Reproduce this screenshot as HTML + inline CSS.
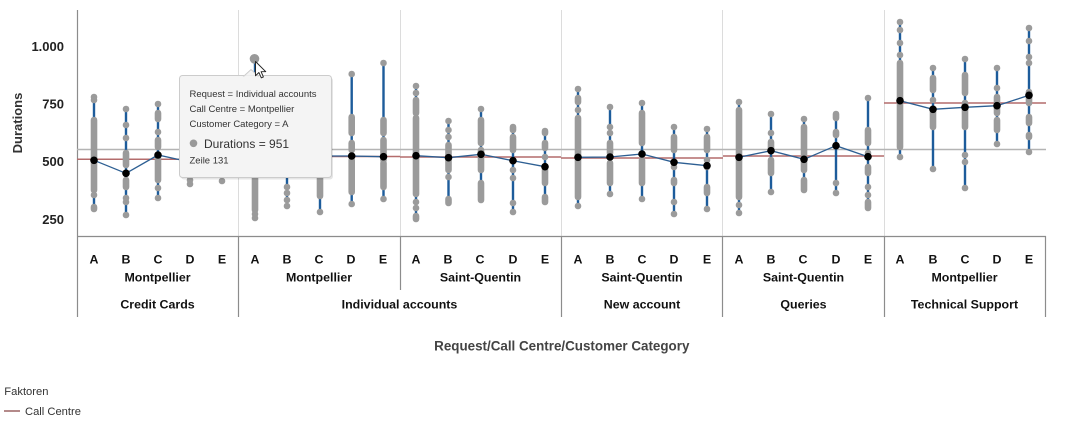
<!DOCTYPE html>
<html><head><meta charset="utf-8"><style>
html,body{margin:0;padding:0;background:#fff;width:1068px;height:424px;overflow:hidden}
svg{display:block}
text{font-family:"Liberation Sans",sans-serif}
.bl{stroke:#1d5c9b;stroke-width:2.4}
.g{stroke:#9b9b9b;stroke-width:6.6;stroke-linecap:round}
.d{fill:#9b9b9b}
.m{fill:#000}
.ml{stroke:#2d5f93;stroke-width:1.3;fill:none}
.rd{stroke:#b46c6c;stroke-width:1.5}
.lt{font-size:12.4px;font-weight:bold;fill:#111;text-anchor:middle}
.tk{font-size:13px;font-weight:bold;fill:#222;text-anchor:end}
.tt{font-size:9.5px;fill:#333}
</style></head><body>
<svg width="1068" height="424" viewBox="0 0 1068 424" xmlns="http://www.w3.org/2000/svg">
<!-- separators in plot -->
<g stroke="#dcdcdc" stroke-width="1">
<line x1="238.5" y1="10" x2="238.5" y2="236"/>
<line x1="400.5" y1="10" x2="400.5" y2="236"/>
<line x1="561.5" y1="10" x2="561.5" y2="236"/>
<line x1="722.5" y1="10" x2="722.5" y2="236"/>
<line x1="884.5" y1="10" x2="884.5" y2="236"/>
</g>
<!-- axes -->
<g stroke="#8c8c8c" stroke-width="1.2">
<line x1="77.5" y1="10" x2="77.5" y2="317"/>
<line x1="77" y1="236.5" x2="1046" y2="236.5"/>
<line x1="238.5" y1="236" x2="238.5" y2="317"/>
<line x1="400.5" y1="236" x2="400.5" y2="290"/>
<line x1="561.5" y1="236" x2="561.5" y2="317"/>
<line x1="722.5" y1="236" x2="722.5" y2="317"/>
<line x1="884.5" y1="236" x2="884.5" y2="317"/>
<line x1="1045.5" y1="236" x2="1045.5" y2="317"/>
</g>
<!-- y ticks -->
<text class="tk" x="64" y="51">1.000</text>
<text class="tk" x="64" y="108.5">750</text>
<text class="tk" x="64" y="166">500</text>
<text class="tk" x="64" y="224">250</text>
<text transform="translate(22,123) rotate(-90)" text-anchor="middle" font-size="13" font-weight="bold" fill="#333">Durations</text>

<!-- reference lines -->
<line x1="77" y1="149.5" x2="1046" y2="149.5" stroke="#b4b4b4" stroke-width="1.5"/>
<line class="rd" x1="77" y1="159.3" x2="238" y2="159.3"/>
<line class="rd" x1="238" y1="156.5" x2="400" y2="156.5"/>
<line class="rd" x1="400" y1="157" x2="561" y2="157"/>
<line class="rd" x1="561" y1="158" x2="723" y2="158"/>
<line class="rd" x1="723" y1="156" x2="884" y2="156"/>
<line class="rd" x1="884" y1="103" x2="1046" y2="103"/>

<!-- blue range lines -->
<g class="bl">
<line x1="94" y1="97" x2="94" y2="208"/>
<line x1="126" y1="109" x2="126" y2="215"/>
<line x1="158" y1="104" x2="158" y2="198"/>
<line x1="190" y1="120" x2="190" y2="184"/>
<line x1="222" y1="130" x2="222" y2="182"/>
<line x1="255" y1="59" x2="255" y2="218"/>
<line x1="287" y1="110" x2="287" y2="206"/>
<line x1="320" y1="100" x2="320" y2="212"/>
<line x1="351.7" y1="74" x2="351.7" y2="205"/>
<line x1="383.5" y1="63" x2="383.5" y2="200"/>
<line x1="416" y1="86" x2="416" y2="219"/>
<line x1="448.5" y1="121" x2="448.5" y2="203"/>
<line x1="481" y1="109" x2="481" y2="200"/>
<line x1="513" y1="127" x2="513" y2="212"/>
<line x1="545" y1="131" x2="545" y2="202"/>
<line x1="578" y1="89" x2="578" y2="206"/>
<line x1="610" y1="107" x2="610" y2="194"/>
<line x1="642" y1="103" x2="642" y2="199"/>
<line x1="674" y1="127" x2="674" y2="214"/>
<line x1="707" y1="129" x2="707" y2="209"/>
<line x1="739" y1="102" x2="739" y2="213"/>
<line x1="771" y1="114" x2="771" y2="192"/>
<line x1="804" y1="119" x2="804" y2="190"/>
<line x1="836" y1="114" x2="836" y2="193"/>
<line x1="868" y1="98" x2="868" y2="208"/>
<line x1="900" y1="22" x2="900" y2="157"/>
<line x1="933" y1="68" x2="933" y2="169"/>
<line x1="965" y1="59" x2="965" y2="188"/>
<line x1="997" y1="68" x2="997" y2="144"/>
<line x1="1029" y1="28" x2="1029" y2="152"/>
</g>

<!-- grey dense segments -->
<g class="g">
<line x1="94" y1="120" x2="94" y2="190"/><line x1="94" y1="207" x2="94" y2="209"/>
<line x1="126" y1="153" x2="126" y2="165"/><line x1="126" y1="180" x2="126" y2="187"/>
<line x1="158" y1="113" x2="158" y2="119"/><line x1="158" y1="140" x2="158" y2="147"/><line x1="158" y1="158" x2="158" y2="180"/>
<line x1="190" y1="130" x2="190" y2="170"/>
<line x1="222" y1="140" x2="222" y2="170"/>
<line x1="255" y1="170" x2="255" y2="210"/>
<line x1="287" y1="150" x2="287" y2="170"/>
<line x1="320" y1="170" x2="320" y2="196"/>
<line x1="351.7" y1="117" x2="351.7" y2="133"/><line x1="351.7" y1="143" x2="351.7" y2="150"/><line x1="351.7" y1="160" x2="351.7" y2="192"/>
<line x1="383.5" y1="120" x2="383.5" y2="133"/><line x1="383.5" y1="140" x2="383.5" y2="160"/><line x1="383.5" y1="163" x2="383.5" y2="187"/>
<line x1="416" y1="100" x2="416" y2="113"/><line x1="416" y1="118" x2="416" y2="194"/><line x1="416" y1="216" x2="416" y2="219"/>
<line x1="448.5" y1="145" x2="448.5" y2="170"/><line x1="448.5" y1="199" x2="448.5" y2="203"/>
<line x1="481" y1="120" x2="481" y2="143"/><line x1="481" y1="150" x2="481" y2="170"/><line x1="481" y1="183" x2="481" y2="200"/>
<line x1="513" y1="127" x2="513" y2="130"/><line x1="513" y1="137" x2="513" y2="150"/>
<line x1="545" y1="131" x2="545" y2="133"/><line x1="545" y1="143" x2="545" y2="148"/><line x1="545" y1="170" x2="545" y2="183"/><line x1="545" y1="197" x2="545" y2="202"/>
<line x1="578" y1="98" x2="578" y2="102"/><line x1="578" y1="118" x2="578" y2="197"/>
<line x1="610" y1="143" x2="610" y2="153"/><line x1="610" y1="163" x2="610" y2="183"/>
<line x1="642" y1="113" x2="642" y2="143"/><line x1="642" y1="160" x2="642" y2="183"/>
<line x1="674" y1="137" x2="674" y2="150"/><line x1="674" y1="180" x2="674" y2="183"/>
<line x1="707" y1="137" x2="707" y2="150"/><line x1="707" y1="187" x2="707" y2="193"/>
<line x1="739" y1="110" x2="739" y2="197"/>
<line x1="771" y1="142" x2="771" y2="150"/><line x1="771" y1="160" x2="771" y2="173"/>
<line x1="804" y1="127" x2="804" y2="170"/><line x1="804" y1="180" x2="804" y2="190"/>
<line x1="836" y1="114" x2="836" y2="118"/><line x1="836" y1="132" x2="836" y2="135"/>
<line x1="868" y1="130" x2="868" y2="143"/><line x1="868" y1="167" x2="868" y2="173"/><line x1="868" y1="202" x2="868" y2="208"/>
<line x1="900" y1="63" x2="900" y2="147"/>
<line x1="933" y1="78" x2="933" y2="90"/><line x1="933" y1="110" x2="933" y2="127"/>
<line x1="965" y1="75" x2="965" y2="93"/><line x1="965" y1="103" x2="965" y2="127"/>
<line x1="997" y1="97" x2="997" y2="113"/><line x1="997" y1="120" x2="997" y2="130"/>
<line x1="1029" y1="92" x2="1029" y2="103"/><line x1="1029" y1="117" x2="1029" y2="123"/><line x1="1029" y1="135" x2="1029" y2="137"/>
</g>

<!-- grey single dots -->
<g class="d">
<circle cx="94" cy="97" r="3.3"/><circle cx="94" cy="100" r="3.3"/><circle cx="94" cy="195" r="3.3"/>
<circle cx="126" cy="109" r="3.3"/><circle cx="126" cy="125" r="3.3"/><circle cx="126" cy="138" r="3.3"/><circle cx="126" cy="198" r="3.3"/><circle cx="126" cy="202" r="3.3"/><circle cx="126" cy="215" r="3.3"/>
<circle cx="158" cy="104" r="3.3"/><circle cx="158" cy="132" r="3.3"/><circle cx="158" cy="188" r="3.3"/><circle cx="158" cy="198" r="3.3"/>
<circle cx="190" cy="180" r="3.3"/><circle cx="190" cy="184" r="3.3"/>
<circle cx="222" cy="181" r="3.3"/>
<circle cx="255" cy="214" r="3.3"/><circle cx="255" cy="218" r="3.3"/>
<circle cx="287" cy="187" r="3.3"/><circle cx="287" cy="193" r="3.3"/><circle cx="287" cy="200" r="3.3"/><circle cx="287" cy="206" r="3.3"/>
<circle cx="320" cy="212" r="3.3"/>
<circle cx="351.7" cy="74" r="3.3"/><circle cx="351.7" cy="204" r="3.3"/>
<circle cx="383.5" cy="63" r="3.3"/><circle cx="383.5" cy="199" r="3.3"/>
<circle cx="416" cy="86" r="3.3"/><circle cx="416" cy="93" r="3.3"/><circle cx="416" cy="202" r="3.3"/><circle cx="416" cy="208" r="3.3"/>
<circle cx="448.5" cy="121" r="3.3"/><circle cx="448.5" cy="130" r="3.3"/><circle cx="448.5" cy="137" r="3.3"/><circle cx="448.5" cy="177" r="3.3"/>
<circle cx="481" cy="109" r="3.3"/>
<circle cx="513" cy="170" r="3.3"/><circle cx="513" cy="178" r="3.3"/><circle cx="513" cy="203" r="3.3"/><circle cx="513" cy="212" r="3.3"/>
<circle cx="545" cy="157" r="3.3"/>
<circle cx="578" cy="89" r="3.3"/><circle cx="578" cy="110" r="3.3"/><circle cx="578" cy="206" r="3.3"/>
<circle cx="610" cy="107" r="3.3"/><circle cx="610" cy="127" r="3.3"/><circle cx="610" cy="133" r="3.3"/><circle cx="610" cy="194" r="3.3"/>
<circle cx="642" cy="103" r="3.3"/><circle cx="642" cy="199" r="3.3"/>
<circle cx="674" cy="127" r="3.3"/><circle cx="674" cy="167" r="3.3"/><circle cx="674" cy="202" r="3.3"/><circle cx="674" cy="214" r="3.3"/>
<circle cx="707" cy="129" r="3.3"/><circle cx="707" cy="160" r="3.3"/><circle cx="707" cy="167" r="3.3"/><circle cx="707" cy="209" r="3.3"/>
<circle cx="739" cy="102" r="3.3"/><circle cx="739" cy="205" r="3.3"/><circle cx="739" cy="213" r="3.3"/>
<circle cx="771" cy="114" r="3.3"/><circle cx="771" cy="133" r="3.3"/><circle cx="771" cy="192" r="3.3"/>
<circle cx="804" cy="119" r="3.3"/>
<circle cx="836" cy="183" r="3.3"/><circle cx="836" cy="193" r="3.3"/>
<circle cx="868" cy="98" r="3.3"/><circle cx="868" cy="153" r="3.3"/><circle cx="868" cy="187" r="3.3"/><circle cx="868" cy="195" r="3.3"/>
<circle cx="900" cy="22" r="3.3"/><circle cx="900" cy="30" r="3.3"/><circle cx="900" cy="43" r="3.3"/><circle cx="900" cy="55" r="3.3"/><circle cx="900" cy="157" r="3.3"/>
<circle cx="933" cy="68" r="3.3"/><circle cx="933" cy="100" r="3.3"/><circle cx="933" cy="169" r="3.3"/>
<circle cx="965" cy="59" r="3.3"/><circle cx="965" cy="155" r="3.3"/><circle cx="965" cy="162" r="3.3"/><circle cx="965" cy="188" r="3.3"/>
<circle cx="997" cy="68" r="3.3"/><circle cx="997" cy="88" r="3.3"/><circle cx="997" cy="144" r="3.3"/>
<circle cx="1029" cy="28" r="3.3"/><circle cx="1029" cy="41" r="3.3"/><circle cx="1029" cy="57" r="3.3"/><circle cx="1029" cy="63" r="3.3"/><circle cx="1029" cy="152" r="3.3"/>
</g>

<!-- mean lines -->
<polyline class="ml" points="94,160.3 126,173.3 158,155 190,162 222,158"/>
<polyline class="ml" points="255,157 287,158 320,156 351.7,156 383.5,156.7"/>
<polyline class="ml" points="416,155.7 448.5,157.7 481,154.3 513,160.7 545,166.7"/>
<polyline class="ml" points="578,157.3 610,157 642,154 674,162.3 707,165.7"/>
<polyline class="ml" points="739,157.3 771,150.7 804,159.3 836,145.7 868,156.7"/>
<polyline class="ml" points="900,100.7 933,109.3 965,107.3 997,105.7 1029,95.3"/>
<g class="m">
<circle cx="94" cy="160.3" r="3.8"/><circle cx="126" cy="173.3" r="3.8"/><circle cx="158" cy="155" r="3.8"/><circle cx="190" cy="162" r="3.8"/><circle cx="222" cy="158" r="3.8"/>
<circle cx="255" cy="157" r="3.8"/><circle cx="287" cy="158" r="3.8"/><circle cx="320" cy="156" r="3.8"/><circle cx="351.7" cy="156" r="3.8"/><circle cx="383.5" cy="156.7" r="3.8"/>
<circle cx="416" cy="155.7" r="3.8"/><circle cx="448.5" cy="157.7" r="3.8"/><circle cx="481" cy="154.3" r="3.8"/><circle cx="513" cy="160.7" r="3.8"/><circle cx="545" cy="166.7" r="3.8"/>
<circle cx="578" cy="157.3" r="3.8"/><circle cx="610" cy="157" r="3.8"/><circle cx="642" cy="154" r="3.8"/><circle cx="674" cy="162.3" r="3.8"/><circle cx="707" cy="165.7" r="3.8"/>
<circle cx="739" cy="157.3" r="3.8"/><circle cx="771" cy="150.7" r="3.8"/><circle cx="804" cy="159.3" r="3.8"/><circle cx="836" cy="145.7" r="3.8"/><circle cx="868" cy="156.7" r="3.8"/>
<circle cx="900" cy="100.7" r="3.8"/><circle cx="933" cy="109.3" r="3.8"/><circle cx="965" cy="107.3" r="3.8"/><circle cx="997" cy="105.7" r="3.8"/><circle cx="1029" cy="95.3" r="3.8"/>
</g>

<!-- hovered point -->
<circle cx="254.5" cy="58.8" r="4.8" fill="#999"/>

<!-- tooltip -->
<rect x="181" y="77.5" width="152" height="102" rx="3" fill="rgba(0,0,0,0.10)"/>
<rect x="179.5" y="75.5" width="152" height="102" rx="3" fill="#f4f4f4" stroke="#cccccc" stroke-width="1"/>
<polygon points="244,76 251,69.5 258,76" fill="#f4f4f4" stroke="#cccccc" stroke-width="1"/>
<rect x="244.5" y="75.7" width="13" height="1.5" fill="#f4f4f4"/>
<text class="tt" x="189.5" y="97">Request = Individual accounts</text>
<text class="tt" x="189.5" y="112">Call Centre = Montpellier</text>
<text class="tt" x="189.5" y="127">Customer Category = A</text>
<circle cx="193.5" cy="143.3" r="3.8" fill="#999"/>
<text x="204" y="148" font-size="12" fill="#333">Durations = 951</text>
<text class="tt" x="189.5" y="163.5">Zeile 131</text>

<!-- cursor -->
<path transform="translate(255.5,61.5) scale(0.95)" d="M0,0 L0,15 L3.6,11.6 L6.1,17.2 L8.3,16.2 L5.9,10.7 L10.8,10.7 Z" fill="#fff" stroke="#222" stroke-width="1" stroke-linejoin="round"/>

<!-- category letters -->
<g class="lt">
<text x="94" y="263.3">A</text><text x="126" y="263.3">B</text><text x="158" y="263.3">C</text><text x="190" y="263.3">D</text><text x="222" y="263.3">E</text>
<text x="255" y="263.3">A</text><text x="287" y="263.3">B</text><text x="319" y="263.3">C</text><text x="351" y="263.3">D</text><text x="383" y="263.3">E</text>
<text x="416" y="263.3">A</text><text x="448" y="263.3">B</text><text x="480" y="263.3">C</text><text x="513" y="263.3">D</text><text x="545" y="263.3">E</text>
<text x="578" y="263.3">A</text><text x="610" y="263.3">B</text><text x="642" y="263.3">C</text><text x="674" y="263.3">D</text><text x="707" y="263.3">E</text>
<text x="739" y="263.3">A</text><text x="771" y="263.3">B</text><text x="803" y="263.3">C</text><text x="836" y="263.3">D</text><text x="868" y="263.3">E</text>
<text x="900" y="263.3">A</text><text x="933" y="263.3">B</text><text x="965" y="263.3">C</text><text x="997" y="263.3">D</text><text x="1029" y="263.3">E</text>
<text x="157.5" y="281.3">Montpellier</text>
<text x="319" y="281.3">Montpellier</text>
<text x="480.5" y="281.3">Saint-Quentin</text>
<text x="642" y="281.3">Saint-Quentin</text>
<text x="803.5" y="281.3">Saint-Quentin</text>
<text x="964.5" y="281.3">Montpellier</text>
<text x="157.5" y="308.7">Credit Cards</text>
<text x="399.5" y="308.7">Individual accounts</text>
<text x="642" y="308.7">New account</text>
<text x="803.5" y="308.7">Queries</text>
<text x="964.5" y="308.7">Technical Support</text>
</g>
<text x="561.8" y="350.7" text-anchor="middle" font-size="13.4" font-weight="bold" fill="#444">Request/Call Centre/Customer Category</text>

<!-- legend -->
<text x="4.3" y="395" font-size="11.2" fill="#333">Faktoren</text>
<line x1="4" y1="411" x2="20" y2="411" stroke="#b48a8a" stroke-width="2"/>
<text x="25" y="415" font-size="11.2" fill="#333">Call Centre</text>
</svg>
</body></html>
